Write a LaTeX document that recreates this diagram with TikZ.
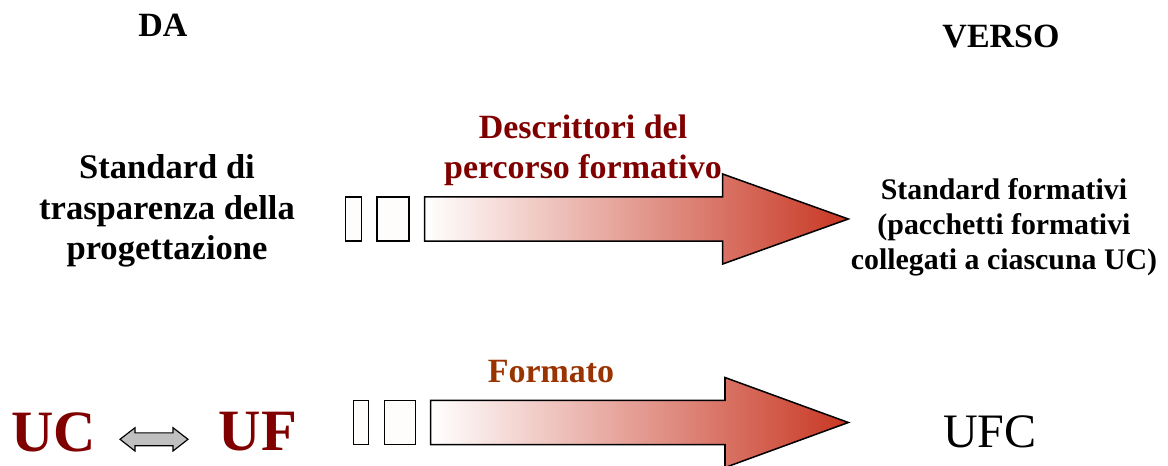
\documentclass[tikz,border=0pt]{standalone}
\usepackage{fontspec}
\setmainfont{Liberation Serif}
\usetikzlibrary{positioning}
\definecolor{darkred}{RGB}{128,0,0}
\definecolor{rust}{RGB}{153,51,0}
\definecolor{arrowred}{RGB}{200,55,35}
\definecolor{arrowgray}{RGB}{192,192,192}
\newcommand\fadearrow[3]{% shaft start x, centre y, head base x
\shadedraw[left color=white, right color=arrowred, line width=1.3pt, line join=miter]
 (#1,#2-22.2) -- (#3,#2-22.2) -- (#3,#2-45) -- (848.3,#2) -- (#3,#2+45) -- (#3,#2+22.2) -- (#1,#2+22.2) -- cycle;
}
\newcommand\tickbox[3]{% left x, right x, centre y
\draw[line width=1.3pt, fill=white!99!red] (#1,#3-22.2) rectangle (#2,#3+22.2);
}
\begin{document}
\begin{tikzpicture}[x=0.03cm,y=-0.03cm,
  every node/.style={inner sep=0pt},
  head/.style={font=\fontsize{29}{34}\selectfont\bfseries},
  sidetext/.style={align=center, font=\fontsize{29.5}{34.5}\selectfont\bfseries},
  righttext/.style={align=center, font=\fontsize{25.5}{30}\selectfont\bfseries},
  tag/.style={align=center, font=\fontsize{29}{34}\selectfont\bfseries},
  big/.style={font=\fontsize{50}{55}\selectfont\bfseries, text=darkred}]
	%% page
	\clip (0,0) rectangle (1168,465);

	\node[head] (da) at (163,25) {DA};
	\node[head] (verso) at (1001,37) {VERSO};

	%% upper row
	\node[sidetext] (stdsx) at (167,211) {Standard di\\trasparenza della\\progettazione};
	\node[tag, text=darkred] (descr) at (583,150) {Descrittori del\\percorso formativo};
	\tickbox{345.7}{361.7}{219}
	\tickbox{377}{409}{219}
	\fadearrow{424.7}{219}{722.7}
	\node[righttext] (stddx) at (1004,227) {Standard formativi\\(pacchetti formativi\\collegati a ciascuna UC)};

	%% lower row
	\node[big] (uc) at (54,432) {UC};
	\node[big] (uf) at (258,432) {UF};
	\fill[arrowgray, draw=black, line width=1pt, line join=miter]
	 (120,439.3) -- (135,427.7) -- (135,432.9) -- (173,432.9) -- (173,427.7) -- (188,439.3)
	 -- (173,451) -- (173,445.7) -- (135,445.7) -- (135,451) -- cycle;
	\node[tag, text=rust] (formato) at (551,372) {Formato};
	\tickbox{353.3}{368.7}{422.5}
	\tickbox{384.3}{415.3}{422.5}
	\fadearrow{430.7}{422.5}{725}
	\node[font=\fontsize{41}{46}\selectfont] (ufc) at (990,432) {UFC};
\end{tikzpicture}
\end{document}
